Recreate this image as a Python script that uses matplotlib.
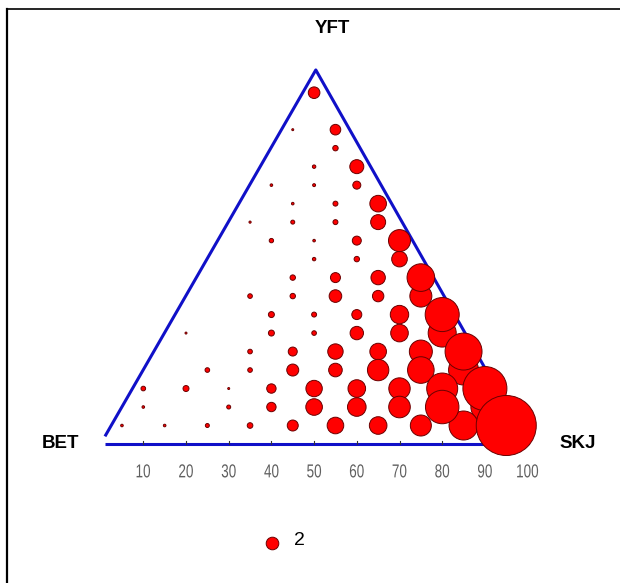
import numpy as np
import matplotlib.pyplot as plt
from matplotlib.lines import Line2D
from matplotlib.textpath import TextPath
from matplotlib.patches import PathPatch
from matplotlib.font_manager import FontProperties
from matplotlib.transforms import Affine2D, IdentityTransform

# position along the base axis (0-100), YFT share (%) and bubble value
skj_pos = [5, 15, 25, 35, 45, 55, 65, 75, 85, 95,
           10, 30, 40, 50, 60, 70, 80, 90,
           10, 20, 30, 40, 50, 60, 70, 80, 90,
           25, 35, 45, 55, 65, 75, 85,
           35, 45, 55, 65, 75, 85,
           20, 40, 50, 60, 70, 80,
           40, 50, 60, 70, 80,
           35, 45, 55, 65, 75,
           45, 55, 65, 75,
           50, 60, 70,
           40, 50, 60, 70,
           35, 45, 55, 65,
           45, 55, 65,
           40, 50, 60,
           50, 60,
           55,
           45, 55,
           50]
yft_pct = [5] * 10 + [10] * 8 + [15] * 9 + [20] * 7 + [25] * 6 + [30] * 6 + \
          [35] * 5 + [40] * 5 + [45] * 4 + [50] * 3 + [55] * 4 + [60] * 4 + \
          [65] * 3 + [70] * 3 + [75] * 2 + [80] + [85] * 2 + [95]
valeurs = [0.085, 0.085, 0.2, 0.4, 1.52, 3.47, 3.9, 5.56, 10.6, 45.4,
           0.085, 0.2, 1.11, 3.47, 4.36, 5.88, 14.1, 9.9,
           0.27, 0.45, 0.05, 1.11, 3.39, 3.9, 5.77, 12.1, 24.4,
           0.27, 0.27, 1.81, 2.33, 5.77, 8.9, 11.3,
           0.27, 1.02, 2.99, 3.47, 6.66, 17.2,
           0.05, 0.45, 0.27, 2.26, 3.9, 9.9,
           0.45, 0.31, 1.26, 4.27, 14.6,
           0.27, 0.37, 2.0, 1.64, 6.1,
           0.37, 1.26, 2.61, 9.6,
           0.15, 0.37, 3.07,
           0.24, 0.085, 1.02, 6.1,
           0.06, 0.2, 0.31, 2.83,
           0.085, 0.31, 3.47,
           0.085, 0.11, 0.81,
           0.15, 2.47,
           0.37,
           0.05, 1.42,
           1.7]

ticks = [10, 20, 30, 40, 50, 60, 70, 80, 90, 100]
valeur_legende = 2

W, H, DPI = 620, 583, 100
ECH = 4.27  # pixels par unite
X0, Y0 = 100.6, 444  # position pixel du zero


def taille(v):
    r_px = 6.3 * np.sqrt(np.asarray(v) / 2)
    return (2 * r_px * 72 / DPI) ** 2


def texte_etroit(ax, x, y, s, taille_pt, serre=0.72, couleur='#606060'):
    # texte "narrow" : on comprime le chemin horizontalement
    tp = TextPath((0, 0), s, size=taille_pt, prop=FontProperties(family='Liberation Sans'))
    ext = tp.get_extents()
    k = DPI / 72
    px, py = ax.transData.transform((x, y))
    tr = Affine2D().translate(-(ext.x0 + ext.x1) / 2, -(ext.y0 + ext.y1) / 2) \
        .scale(serre * k, k).translate(px, py)
    patch = PathPatch(tr.transform_path(tp), transform=IdentityTransform(),
                      facecolor=couleur, edgecolor='none')
    ax.add_artist(patch)


fig = plt.figure(figsize=(W / DPI, H / DPI), dpi=DPI)
ax = fig.add_axes([0, 0, 1, 1])
ax.set_xlim(-X0 / ECH, (W - X0) / ECH)
ax.set_ylim(-(H - Y0) / ECH, Y0 / ECH)
ax.axis('off')

# triangle
bleu = '#1010c8'
ax.plot([1.0, 100.1], [0, 0], color=bleu, lw=2.2, solid_capstyle='butt')
ax.plot([1.2, 50.4, 100.1], [2.1, 87.6, 0], color=bleu, lw=2.2)

# bulles (les grandes par dessus)
x = np.array(skj_pos, dtype=float)
y = np.array(yft_pct, dtype=float) * np.sqrt(3) / 2
v = np.array(valeurs)
ordre = np.argsort(v)
ax.scatter(x[ordre], y[ordre], s=taille(v[ordre]), c='#ff0000',
           edgecolors='#6a0000', linewidths=0.7, zorder=3)

# axe gradue
for t in ticks:
    if t < 100:
        ax.plot([t, t], [0, 0.8], color='#333333', lw=0.8, zorder=2)
    texte_etroit(ax, t, -6.3, str(t), 13.5)

# sommets
gras = dict(fontsize=13.5, fontweight='bold', family=['Liberation Sans', 'DejaVu Sans'],
            va='center', ha='center')
ax.text(54.2, 97.4, 'YFT', **gras)
ax.text(-9.5, 0.2, 'BET', **gras)
ax.text(111.8, 0.2, 'SKJ', **gras)

# legende
ax.scatter([40.2], [-23.3], s=taille(valeur_legende), c='#ff0000',
           edgecolors='#6a0000', linewidths=0.7)
ax.text(45.3, -22.6, str(valeur_legende), ha='left', va='center', fontsize=14,
        family=['Liberation Sans', 'DejaVu Sans'])

# cadre
fig.add_artist(Line2D([7 / W, 1], [1 - 9 / H, 1 - 9 / H], color='black', lw=1.2))
fig.add_artist(Line2D([7 / W, 7 / W], [0, 1 - 9 / H], color='black', lw=1.6))

fig.savefig('out.png', dpi=DPI)
